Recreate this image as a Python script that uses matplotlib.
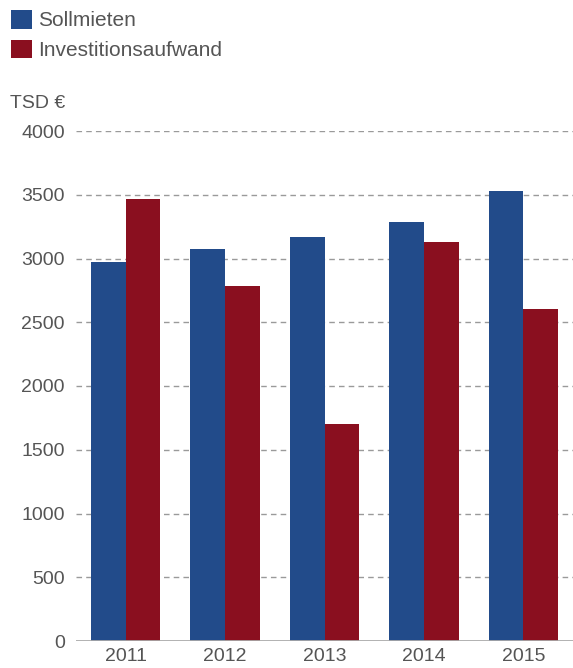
import matplotlib
matplotlib.use("Agg")
import matplotlib.pyplot as plt
import numpy as np

years = ["2011", "2012", "2013", "2014", "2015"]
sollmieten = [2975, 3075, 3170, 3285, 3530]
investition = [3465, 2785, 1705, 3130, 2605]
series_labels = ["Sollmieten", "Investitionsaufwand"]
yticks = [0, 500, 1000, 1500, 2000, 2500, 3000, 3500, 4000]

plt.rcParams['font.family'] = ['Liberation Sans', 'DejaVu Sans']

W, H = 573, 668
fig = plt.figure(figsize=(W/100, H/100), dpi=100)
ax = fig.add_axes([76/W, 1 - 641/H, 1 - 76/W, (641-131)/H])

blue = "#224B8A"
red = "#8A0F1F"
x = np.arange(len(years))
w = 0.35
b1 = ax.bar(x - w/2, sollmieten, w, color=blue, label=series_labels[0], zorder=3)
b2 = ax.bar(x + w/2, investition, w, color=red, label=series_labels[1], zorder=3)

ax.set_xlim(-0.5, len(years) - 0.5)
ax.set_ylim(0, 4000)
ax.set_yticks(yticks)
ax.set_yticklabels([str(v) for v in yticks])
ax.set_xticks(x)
ax.set_xticklabels(years)
for s in ax.spines.values():
    s.set_visible(False)
ax.tick_params(axis='both', length=0, labelsize=14, labelcolor="#555555")
ax.tick_params(axis='y', pad=8)
ax.tick_params(axis='x', pad=5)
for v in yticks[1:]:
    ax.axhline(v, color="#9a9a9a", lw=1, ls=(0, (4, 3)), zorder=1)
ax.axhline(0, color="#aaaaaa", lw=2, zorder=4)

fig.text(10/W, 1 - 103/H, "TSD €", fontsize=14, color="#555555", va='center', ha='left')

leg = fig.legend(handles=[b1, b2], loc='upper left', bbox_to_anchor=(11/W, 1 - 10/H),
                 frameon=False, fontsize=15, handlelength=1.0, handleheight=1.0,
                 handletextpad=0.3, labelspacing=0.45, borderaxespad=0, borderpad=0)
for t in leg.get_texts():
    t.set_color("#555555")

fig.savefig("out.png", dpi=100)
